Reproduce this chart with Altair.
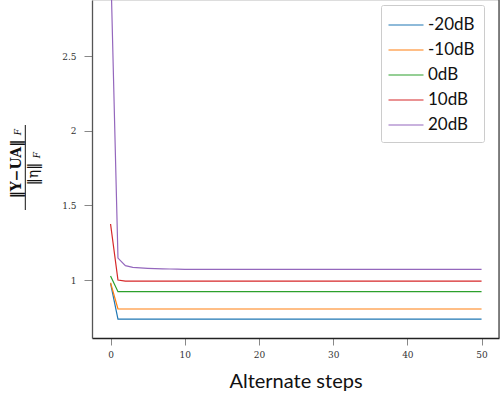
import altair as alt
import pandas as pd

steps = list(range(51))
snr_labels = ["-20dB", "-10dB", "0dB", "10dB", "20dB"]
snr_colors = ["#1f77b4", "#ff7f0e", "#2ca02c", "#d62728", "#9467bd"]

vals_m20 = [0.978, 0.739, 0.739, 0.739, 0.739, 0.739, 0.739, 0.739, 0.739, 0.739,
            0.739, 0.739, 0.739, 0.739, 0.739, 0.739, 0.739, 0.739, 0.739, 0.739,
            0.739, 0.739, 0.739, 0.739, 0.739, 0.739, 0.739, 0.739, 0.739, 0.739,
            0.739, 0.739, 0.739, 0.739, 0.739, 0.739, 0.739, 0.739, 0.739, 0.739,
            0.739, 0.739, 0.739, 0.739, 0.739, 0.739, 0.739, 0.739, 0.739, 0.739,
            0.739]
vals_m10 = [0.982, 0.806, 0.806, 0.806, 0.806, 0.806, 0.806, 0.806, 0.806, 0.806,
            0.806, 0.806, 0.806, 0.806, 0.806, 0.806, 0.806, 0.806, 0.806, 0.806,
            0.806, 0.806, 0.806, 0.806, 0.806, 0.806, 0.806, 0.806, 0.806, 0.806,
            0.806, 0.806, 0.806, 0.806, 0.806, 0.806, 0.806, 0.806, 0.806, 0.806,
            0.806, 0.806, 0.806, 0.806, 0.806, 0.806, 0.806, 0.806, 0.806, 0.806,
            0.806]
vals_0 = [1.027, 0.922, 0.922, 0.922, 0.922, 0.922, 0.922, 0.922, 0.922, 0.922,
          0.922, 0.922, 0.922, 0.922, 0.922, 0.922, 0.922, 0.922, 0.922, 0.922,
          0.922, 0.922, 0.922, 0.922, 0.922, 0.922, 0.922, 0.922, 0.922, 0.922,
          0.922, 0.922, 0.922, 0.922, 0.922, 0.922, 0.922, 0.922, 0.922, 0.922,
          0.922, 0.922, 0.922, 0.922, 0.922, 0.922, 0.922, 0.922, 0.922, 0.922,
          0.922]
vals_10 = [1.375, 1.000, 0.993, 0.993, 0.993, 0.993, 0.993, 0.993, 0.993, 0.993,
           0.993, 0.993, 0.993, 0.993, 0.993, 0.993, 0.993, 0.993, 0.993, 0.993,
           0.993, 0.993, 0.993, 0.993, 0.993, 0.993, 0.993, 0.993, 0.993, 0.993,
           0.993, 0.993, 0.993, 0.993, 0.993, 0.993, 0.993, 0.993, 0.993, 0.993,
           0.993, 0.993, 0.993, 0.993, 0.993, 0.993, 0.993, 0.993, 0.993, 0.993,
           0.993]
vals_20 = [3.150, 1.147, 1.096, 1.085, 1.081, 1.078, 1.076, 1.075, 1.074, 1.073,
           1.072, 1.072, 1.072, 1.072, 1.072, 1.072, 1.072, 1.072, 1.072, 1.072,
           1.072, 1.072, 1.072, 1.072, 1.072, 1.072, 1.072, 1.072, 1.072, 1.072,
           1.072, 1.072, 1.072, 1.072, 1.072, 1.072, 1.072, 1.072, 1.072, 1.072,
           1.072, 1.072, 1.072, 1.072, 1.072, 1.072, 1.072, 1.072, 1.072, 1.072,
           1.072]

x_ticks = [0, 10, 20, 30, 40, 50]
y_ticks = [1, 1.5, 2, 2.5]
x_title = "Alternate steps"

rows = []
for name, vals in zip(snr_labels, [vals_m20, vals_m10, vals_0, vals_10, vals_20]):
    for s, v in zip(steps, vals):
        rows.append({"step": s, "value": v, "snr": name})
df = pd.DataFrame(rows)

W, H = 407, 338

lines = alt.Chart(df).mark_line(strokeWidth=1.2, clip=True).encode(
    x=alt.X("step:Q",
            scale=alt.Scale(domain=[-2.5, 52.35], nice=False, zero=False),
            axis=alt.Axis(values=x_ticks, title=x_title, grid=False,
                          labelFont="DejaVu Serif", labelFontSize=9, labelColor="#333",
                          labelPadding=5, tickSize=7, tickColor="#888",
                          domainColor="#222", domainWidth=1.3,
                          titleFont="Lato", titleFontSize=20, titleFontWeight="normal",
                          titleColor="#111", titlePadding=12)),
    y=alt.Y("value:Q",
            scale=alt.Scale(domain=[0.612, 2.875], nice=False, zero=False),
            axis=alt.Axis(values=y_ticks, title=None, grid=False,
                          labelFont="DejaVu Serif", labelFontSize=9, labelColor="#333",
                          labelPadding=8, tickSize=8, tickColor="#888",
                          domainColor="#555", domainWidth=1.3,
                          format="~g")),
    color=alt.Color("snr:N",
                    scale=alt.Scale(domain=snr_labels, range=snr_colors),
                    sort=snr_labels,
                    legend=alt.Legend(orient="none", legendX=289, legendY=5, title=None,
                                      symbolType="M-1.75,0H1.75", symbolSize=400,
                                      symbolStrokeWidth=1.2, symbolOffset=5,
                                      labelFont="Lato", labelFontSize=17, labelColor="#111",
                                      labelOffset=11, padding=9, rowPadding=6,
                                      strokeColor="#cccccc", fillColor="white",
                                      cornerRadius=2)),
    detail="snr:N",
)

right_spine = alt.Chart(pd.DataFrame({"a": [0]})).mark_rule(color="#444", strokeWidth=1.3).encode(
    x=alt.value(W), y=alt.value(0), y2=alt.value(H))

num_df = pd.DataFrame({"t": ["\u2016Y\u2212UA\u2016"]})
num_sub_df = pd.DataFrame({"t": ["F"]})
den_df = pd.DataFrame({"t": ["\u2016\u03b7\u2016"]})

numerator = alt.Chart(num_df).mark_text(angle=270, align="center", baseline="middle",
                                        font="DejaVu Serif", fontSize=14, fontWeight="bold",
                                        color="#111").encode(
    text="t:N", x=alt.value(-75.5), y=alt.value(169))
num_sub = alt.Chart(num_sub_df).mark_text(angle=270, align="center", baseline="middle",
                                          font="DejaVu Serif", fontSize=9, fontStyle="italic",
                                          color="#111").encode(
    text="t:N", x=alt.value(-74), y=alt.value(132))
bar = alt.Chart(pd.DataFrame({"a": [0]})).mark_rule(color="#111", strokeWidth=1).encode(
    x=alt.value(-66.7), y=alt.value(125), y2=alt.value(210))
denominator = alt.Chart(den_df).mark_text(angle=270, align="center", baseline="middle",
                                          font="DejaVu Serif", fontSize=14,
                                          color="#111").encode(
    text="t:N", x=alt.value(-58), y=alt.value(174))
den_sub = alt.Chart(num_sub_df).mark_text(angle=270, align="center", baseline="middle",
                                          font="DejaVu Serif", fontSize=9, fontStyle="italic",
                                          color="#111").encode(
    text="t:N", x=alt.value(-55.5), y=alt.value(155))

chart = alt.layer(lines, right_spine, numerator, num_sub, bar, denominator, den_sub).properties(
    width=W, height=H,
    autosize=alt.AutoSizeParams(type="none"),
    padding={"left": 92, "top": 0, "right": 2, "bottom": 64},
).configure_view(stroke=None).configure(background="white")

chart.save("out.html", embed_options={"renderer": "svg", "actions": False})
